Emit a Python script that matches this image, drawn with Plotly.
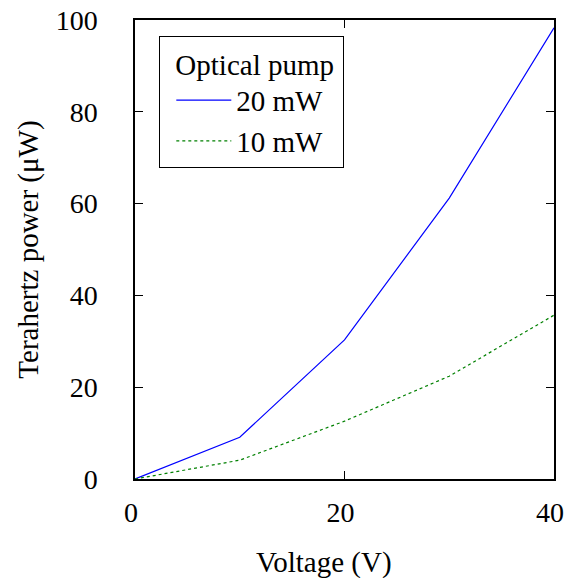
import plotly.graph_objects as go

voltage = [0, 10, 20, 30, 40]
power_20mw = [0, 9.1, 30.3, 61.2, 98.3]
power_10mw = [0, 4.1, 12.6, 22.4, 35.7]
x_ticks = [0, 20, 40]
y_ticks = [0, 20, 40, 60, 80, 100]
x_title = "Voltage (V)"
y_title = "Terahertz power (μW)"
legend_title = "Optical pump"

FONT = "Liberation Serif"

fig = go.Figure()
fig.add_trace(go.Scatter(x=voltage, y=power_20mw, mode="lines", name="20 mW",
                         line=dict(color="#0000ff", width=1.2)))
fig.add_trace(go.Scatter(x=voltage, y=power_10mw, mode="lines", name="10 mW",
                         line=dict(color="#008000", width=1.2, dash="dot")))

axis_common = dict(showline=True, linecolor="black", linewidth=1.5, mirror="ticks",
                   ticks="inside", ticklen=8, tickwidth=1, tickcolor="black",
                   showgrid=False, zeroline=False, automargin=False,
                   tickfont=dict(family=FONT, size=28, color="black"))

fig.update_xaxes(range=[0, 40], tickvals=x_ticks, ticklabelstandoff=8, ticklabelshift=-4,
                 **axis_common)
fig.update_yaxes(range=[0, 100], tickvals=y_ticks, ticklabelstandoff=30,
                 **axis_common)

fig.add_annotation(text=x_title, xref="paper", yref="paper", x=0.451, y=-0.181,
                   xanchor="center", yanchor="middle", showarrow=False,
                   font=dict(family=FONT, size=29, color="black"))
fig.add_annotation(text=y_title, xref="paper", yref="paper", x=-0.255, y=0.5,
                   xanchor="center", yanchor="middle", showarrow=False, textangle=-90,
                   font=dict(family=FONT, size=29, color="black"))

fig.update_layout(
    width=569, height=578,
    margin=dict(l=135, r=15, t=20, b=99),
    plot_bgcolor="white", paper_bgcolor="white",
    font=dict(family=FONT, size=28, color="black"),
    showlegend=True,
    legend=dict(x=0.058, y=0.965, xanchor="left", yanchor="top",
                bordercolor="black", borderwidth=1, bgcolor="white",
                itemwidth=55, indentation=11,
                title=dict(text="\u00a0\u2009" + legend_title + "\u00a0", font=dict(family=FONT, size=29)),
                font=dict(family=FONT, size=29)),
)

fig.write_html("out.html")
